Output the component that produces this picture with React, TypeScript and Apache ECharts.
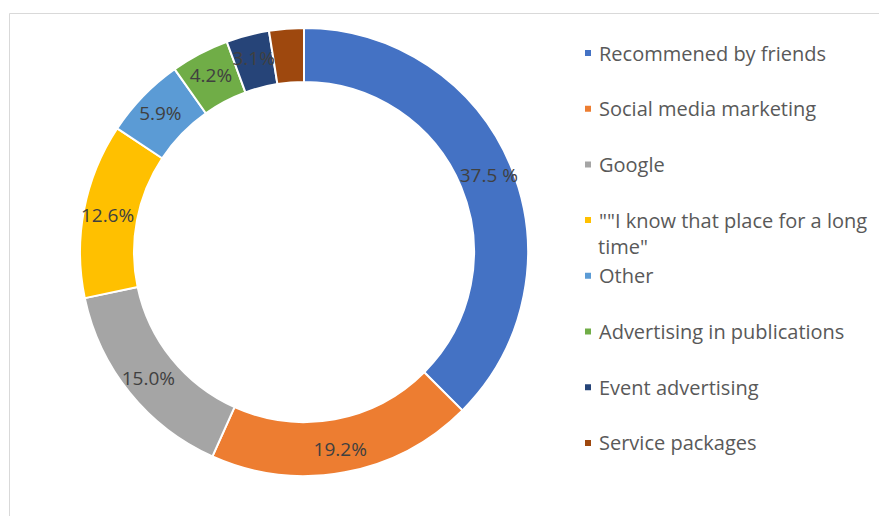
import React, { useEffect, useRef } from "react";
import * as echarts from "echarts";

const categories = [
  "Recommened by friends",
  "Social media marketing",
  "Google",
  '""I know that place for a long time"',
  "Other",
  "Advertising in publications",
  "Event advertising",
  "Service packages",
];
const values = [37.5, 19.2, 15.0, 12.6, 5.9, 4.2, 3.1, 2.5];
const valueLabels = ["37.5 %", "19.2%", "15.0%", "12.6%", "5.9%", "4.2%", "3.1%", "2.5%"];
const colors = ["#4472C4", "#ED7D31", "#A5A5A5", "#FFC000", "#5B9BD5", "#70AD47", "#264478", "#9E480E"];

export default function App() {
  const ref = useRef<HTMLDivElement>(null);
  useEffect(() => {
    document.body.style.margin = "0";
    const chart = echarts.init(ref.current!, undefined, { renderer: "svg" });
    chart.setOption({
      animation: false,
      backgroundColor: "#ffffff",
      color: colors,
      graphic: [
        {
          type: "rect",
          shape: { x: 9.5, y: 13.5, width: 1000, height: 1000 },
          style: { fill: "none", stroke: "#d9d9d9", lineWidth: 1 },
          silent: true,
          z: -1,
        },
        {
          type: "text",
          left: 598,
          top: 236,
          style: {
            text: 'time"',
            fill: "#595959",
            font: '20px "Open Sans"',
            lineHeight: 20,
          },
        },
      ],
      legend: {
        orient: "vertical",
        left: 583,
        top: 43,
        padding: 0,
        icon: "rect",
        itemWidth: 8,
        itemHeight: 8,
        itemGap: 35.7,
        data: categories,
        formatter: (name: string) =>
          name.startsWith('""I know') ? '""I know that place for a long' : name,
        textStyle: {
          color: "#595959",
          fontFamily: "Open Sans",
          fontSize: 20,
          lineHeight: 20,
          padding: [0, 0, 0, 2],
        },
      },
      series: [
        {
          type: "pie",
          center: [304, 252],
          radius: [170, 224],
          startAngle: 90,
          clockwise: true,
          avoidLabelOverlap: false,
          itemStyle: { borderColor: "#ffffff", borderWidth: 2 },
          label: {
            show: true,
            position: "inside",
            color: "#404040",
            fontFamily: "Open Sans",
            fontSize: 19,
            formatter: (p: any) => valueLabels[p.dataIndex],
          },
          labelLine: { show: false },
          emphasis: { disabled: true },
          data: categories.map((name, i) => ({ name, value: values[i] })),
        },
      ],
    });
    return () => chart.dispose();
  }, []);
  return (
    <div
      ref={ref}
      style={{ position: "absolute", left: 0, top: 0, width: 879, height: 516 }}
    />
  );
}
